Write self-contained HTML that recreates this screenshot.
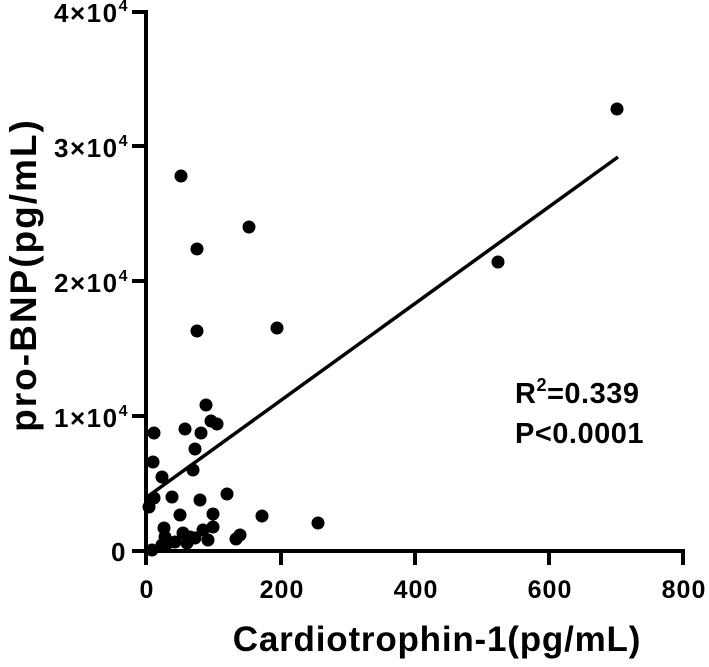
<!DOCTYPE html>
<html><head><style>body{margin:0;background:#fff}svg text{font-family:"Liberation Sans",Arial,sans-serif;font-weight:bold;fill:#000}</style></head>
<body>
<svg width="709" height="662" viewBox="0 0 709 662">
<g stroke="#000" stroke-width="4" fill="none">
<line x1="146" y1="10" x2="146" y2="553"/>
<line x1="144" y1="551" x2="685" y2="551"/>
<line x1="132" y1="12" x2="146" y2="12"/>
<line x1="132" y1="146" x2="146" y2="146"/>
<line x1="132" y1="281" x2="146" y2="281"/>
<line x1="132" y1="416" x2="146" y2="416"/>
<line x1="132" y1="551" x2="146" y2="551"/>
<line x1="146" y1="551" x2="146" y2="565"/>
<line x1="281" y1="551" x2="281" y2="565"/>
<line x1="415" y1="551" x2="415" y2="565"/>
<line x1="549" y1="551" x2="549" y2="565"/>
<line x1="683" y1="551" x2="683" y2="565"/>
<line x1="147" y1="497" x2="618" y2="157" stroke-width="3.5"/>
</g>
<g fill="#000">
<circle cx="617" cy="109" r="6.5"/><circle cx="498" cy="262" r="6.5"/><circle cx="181" cy="176" r="6.5"/><circle cx="249" cy="227" r="6.5"/><circle cx="197" cy="249" r="6.5"/><circle cx="197" cy="331" r="6.5"/><circle cx="277" cy="328" r="6.5"/>
<circle cx="206" cy="405" r="6.5"/><circle cx="211" cy="421" r="6.5"/><circle cx="217" cy="424" r="6.5"/><circle cx="154" cy="433" r="6.5"/><circle cx="185" cy="429" r="6.5"/><circle cx="201" cy="433" r="6.5"/><circle cx="195" cy="449" r="6.5"/><circle cx="153" cy="462" r="6.5"/><circle cx="162" cy="477" r="6.5"/><circle cx="193" cy="470" r="6.5"/><circle cx="154" cy="498" r="6.5"/><circle cx="172" cy="497" r="6.5"/><circle cx="149" cy="507" r="6.5"/><circle cx="200" cy="500" r="6.5"/><circle cx="227" cy="494" r="6.5"/><circle cx="180" cy="515" r="6.5"/><circle cx="213" cy="514" r="6.5"/><circle cx="262" cy="516" r="6.5"/><circle cx="318" cy="523" r="6.5"/><circle cx="164" cy="528" r="6.5"/><circle cx="213" cy="527" r="6.5"/><circle cx="203" cy="530" r="6.5"/><circle cx="240" cy="535" r="6.5"/><circle cx="236" cy="539" r="6.5"/><circle cx="183" cy="533" r="6.5"/><circle cx="190" cy="537" r="6.5"/><circle cx="208" cy="540" r="6.5"/><circle cx="165" cy="537" r="6.5"/><circle cx="175" cy="542" r="6.5"/><circle cx="187" cy="543" r="6.5"/><circle cx="168" cy="543" r="6.5"/><circle cx="152" cy="550" r="6.5"/><circle cx="162" cy="545" r="6.5"/><circle cx="195" cy="538" r="6.5"/>
</g>
<g font-size="26" letter-spacing="1.5" text-anchor="end">
<text x="129" y="22">4×10<tspan font-size="16" dy="-11">4</tspan></text>
<text x="129" y="157">3×10<tspan font-size="16" dy="-11">4</tspan></text>
<text x="129" y="292">2×10<tspan font-size="16" dy="-11">4</tspan></text>
<text x="129" y="427">1×10<tspan font-size="16" dy="-11">4</tspan></text>
<text x="127" y="561">0</text>
</g>
<g font-size="25" letter-spacing="1" text-anchor="middle">
<text x="147" y="598">0</text><text x="282" y="598">200</text><text x="416" y="598">400</text><text x="550" y="598">600</text><text x="684" y="598">800</text>
</g>
<text x="437" y="651" font-size="35" letter-spacing="0.8" text-anchor="middle">Cardiotrophin-1(pg/mL)</text>
<text transform="translate(36,275) rotate(-90)" font-size="37" letter-spacing="2" text-anchor="middle">pro-BNP(pg/mL)</text>
<text x="515" y="403" font-size="29" letter-spacing="0.5">R<tspan font-size="18" dy="-12">2</tspan><tspan dy="12">=0.339</tspan></text>
<text x="515" y="443" font-size="29" letter-spacing="0.5">P&lt;0.0001</text>
</svg>
</body></html>
